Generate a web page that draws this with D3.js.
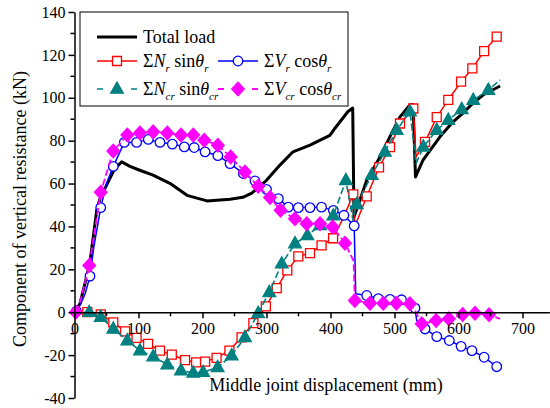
<!DOCTYPE html>
<html>
<head>
<meta charset="utf-8">
<script src="https://cdn.jsdelivr.net/npm/d3@7"></script>
<style>
  body { margin: 0; background: #fff; }
  svg { display: block; }
  svg text { font-family: "Liberation Serif", "Times New Roman", Times, "DejaVu Serif", serif; }
</style>
</head>
<body>
<svg id="chart" width="550" height="408"></svg>
<script>
// data: [displacement mm, kN, marker? (0 = no symbol)]
var totalLoad = [[0,0],[8.6,4.1],[16.4,13.4],[24,23],[34.7,47.5],[39.8,53],[55.5,62.5],[63,67],[73.8,70.1],[86.7,68],[102,66.2],[122.7,63.9],[149,60.1],[175.8,54.5],[207,51.9],[243,52.7],[263,53.6],[277,55.5],[300,61.5],[321,68.6],[341.4,74.8],[368,77.9],[399,82.5],[407,85.8],[427,93.5],[434.7,95.2],[436.7,44.4],[456.6,61.5],[477.3,72.4],[495.6,83.5],[508.6,91.1],[524,96.6],[529,96.9],[532.8,63.1],[544.5,70.9],[571,81.8],[591.4,88.8],[607,92.9],[622.7,97.5],[638.3,101.3],[665,105.5]];

var nrSin = [[0,0,0],[20,0],[41,-1],[60.6,-4.7],[79,-8.9],[97,-12],[115,-14.8],[133.6,-17.9],[152,-19.8],[172.7,-22.3],[190,-23.4],[204,-23],[222,-21.3],[242,-17.9],[261,-11.7],[279.5,-5.1],[299,2.7],[316,11.2],[332.5,19.5],[349.7,26],[368,27.6],[386,31.2],[404,34.5],[420,44,0],[435.6,55],[438,40,0],[456.6,54],[475.8,67.5],[493,77],[508.6,88],[529.4,95],[533.6,72.4,0],[547.7,79.4],[566,91],[584,99],[604,107.5],[621.6,113.7],[640,121.8],[659.7,128.5],[665,130,0]];

var vrCos = [[0,0,0],[3,0.5],[10,4,0],[17,9,0],[24.2,16.8],[30,30,0],[41,48.8],[50,60,0],[60.6,68],[77.8,79.2],[97,79.2],[115.3,80.6],[133.6,79.2],[152.9,78.4],[171.6,77.1],[187,76.8],[204,74.8],[224,73],[243,69.3],[263.8,64.7],[282,61.2],[300,57.3],[318.5,53],[334,49],[349.7,48.8],[368,48.8],[386,49],[404.4,47.5],[421,45.2],[437,40.3],[439.4,8.6,0],[456.6,7.8],[474.7,6.3],[493,6],[511,5.8],[532,1.9],[534.7,-3.9,0],[547.7,-7.8],[566,-11.4],[585.6,-13.2],[604,-15.9],[621,-17.9],[640,-21],[659.7,-25.4]];

var ncrSin = [[0,0,0],[23,0],[41,-2.3],[60.6,-7.8],[82.5,-13.2],[102.3,-17.9],[123,-20.7],[145,-24.4],[166.4,-27.2],[185.6,-28.3],[201,-28],[223.7,-25.7],[245.6,-20.2],[266.4,-11.7],[287,-0.5],[304.4,9.3],[323.8,22.6],[344.5,32],[363.8,35.8],[383.6,40.5],[404.4,45],[424,61.5],[435,43,0],[441,50.3],[464.4,63.9],[485,74.8],[503.4,84.9],[524.2,93.5],[533.6,69.3,0],[545,77.1],[566,84.9],[584,89.6],[605,94.6],[623,98.9],[646.6,103.6],[665,108.3,0]];

var vcrCos = [[2,0],[10,6,0],[23,21.8],[41,56],[60.6,75.2],[82.5,82.6],[102.3,83.6],[123,84.1],[145,83.6],[166.4,82.6],[185.6,82.6],[202.8,80.2],[224,77.9],[244,72.4],[266.4,65.4],[287,58.7],[305.5,53.5],[322,47.5],[344.5,43.6],[362.8,41.3],[383.6,41.3],[403.4,39.7],[422.7,32.2],[436,24,0],[438,5.5],[461.7,4.2],[482.5,4.2],[503,4.2],[524,3.9],[532,0.8,0],[542.5,-5.4],[565,-3.9],[585,-3.1],[606.5,-1.1],[625.8,-0.5],[647.7,-1.2],[665,-3.1,0]];

var xTicks = [0,100,200,300,400,500,600,700];
var yTicks = [-40,-20,0,20,40,60,80,100,120,140];

var FONT = "Liberation Serif, Times New Roman, Times, DejaVu Serif, serif";

var svg = d3.select("#chart");

var x = d3.scaleLinear().domain([0, 742]).range([74.5, 549.4]);
var y = d3.scaleLinear().domain([-40, 140]).range([398, 12]);

// symbol paths
function sym(type) {
  if (type === "square") return "M-4.5,-4.5H4.5V4.5H-4.5Z";
  if (type === "circle") return d3.symbol(d3.symbolCircle, 72)();
  if (type === "triangle") return "M0,-7L6.3,4.2L-6.3,4.2Z";
  if (type === "diamond") return "M0,-6.8L6.3,0L0,6.8L-6.3,0Z";
}

var series = [
  {data: totalLoad, color: "#000000", width: 3,   dash: null,  sym: null},
  {data: nrSin,     color: "#ff0000", width: 1.5, dash: null,  sym: "square",   fill: "#fff"},
  {data: vrCos,     color: "#0000ff", width: 1.5, dash: null,  sym: "circle",   fill: "#fff"},
  {data: ncrSin,    color: "#008080", width: 1.6, dash: "7,3", sym: "triangle", fill: "#008080"},
  {data: vcrCos,    color: "#ff00ff", width: 1.8, dash: "7,3", sym: "diamond",  fill: "#ff00ff"}
];

var line = d3.line().x(d => x(d[0])).y(d => y(d[1]));

series.forEach(function(s) {
  var g = svg.append("g");
  g.append("path")
    .attr("d", line(s.data))
    .attr("fill", "none")
    .attr("stroke", s.color)
    .attr("stroke-width", s.width)
    .attr("stroke-linejoin", "round")
    .attr("stroke-dasharray", s.dash);
  if (s.sym) {
    g.selectAll("path.pt")
      .data(s.data.filter(d => d[2] !== 0))
      .join("path")
      .attr("class", "pt")
      .attr("d", sym(s.sym))
      .attr("transform", d => `translate(${x(d[0])},${y(d[1])})`)
      .attr("fill", s.fill)
      .attr("stroke", s.color)
      .attr("stroke-width", 1.3);
  }
});

// axes (plain hyphen for negatives, like the original)
var fmt = d => String(d);

var yAxis = svg.append("g")
  .attr("transform", `translate(${x(0)},0)`)
  .call(d3.axisLeft(y).tickValues(yTicks).tickFormat(fmt).tickSize(6).tickSizeOuter(0).tickPadding(3));
yAxis.selectAll(".minor")
  .data(d3.range(-30, 140, 20))
  .join("line")
  .attr("x1", -4).attr("x2", 0)
  .attr("y1", d => y(d)).attr("y2", d => y(d))
  .attr("stroke", "#000").attr("stroke-width", 1.5);

var xAxis = svg.append("g")
  .attr("transform", `translate(0,${y(0)})`)
  .call(d3.axisBottom(x).tickValues(xTicks).tickFormat(fmt).tickSize(6).tickSizeOuter(0).tickPadding(4));
xAxis.selectAll(".minor")
  .data(d3.range(50, 750, 100))
  .join("line")
  .attr("x1", d => x(d)).attr("x2", d => x(d))
  .attr("y1", 0).attr("y2", 4)
  .attr("stroke", "#000").attr("stroke-width", 1.5);

[xAxis, yAxis].forEach(function(a) {
  a.attr("font-family", FONT).attr("font-size", 16);
  a.selectAll(".domain").attr("stroke-width", 1.5);
  a.selectAll(".tick line").attr("stroke-width", 1.5);
  a.selectAll("text").attr("fill", "#000");
});

// axis titles
svg.append("text")
  .attr("x", 326).attr("y", 391)
  .attr("text-anchor", "middle")
  .attr("font-family", FONT).attr("font-size", 18)
  .text("Middle joint displacement (mm)");

svg.append("text")
  .attr("transform", "translate(26,209) rotate(-90)")
  .attr("text-anchor", "middle")
  .attr("font-family", FONT).attr("font-size", 18)
  .text("Component of vertical resistance (kN)");

// legend
var leg = svg.append("g");
leg.append("rect")
  .attr("x", 80).attr("y", 12).attr("width", 268).attr("height", 94)
  .attr("fill", "#fff").attr("stroke", "#000").attr("stroke-width", 1);

var legItems = [
  {s: series[0], lx: 97, ly: 37, label: [["Total load", "n"]]},
  {s: series[1], lx: 97, ly: 61, label: [["Σ","n"],["N","i"],["r","s"],[" sin","n"],["θ","i"],["r","s"]]},
  {s: series[2], lx: 218, ly: 61, label: [["Σ","n"],["V","i"],["r","s"],[" cos","n"],["θ","i"],["r","s"]]},
  {s: series[3], lx: 97, ly: 89, label: [["Σ","n"],["N","i"],["cr","s"],[" sin","n"],["θ","i"],["cr","s"]]},
  {s: series[4], lx: 218, ly: 89, label: [["Σ","n"],["V","i"],["cr","s"],[" cos","n"],["θ","i"],["cr","s"]]}
];

legItems.forEach(function(it) {
  var s = it.s;
  leg.append("line")
    .attr("x1", it.lx).attr("x2", it.lx + 40)
    .attr("y1", it.ly).attr("y2", it.ly)
    .attr("stroke", s.color)
    .attr("stroke-width", s.width)
    .attr("stroke-dasharray", s.dash ? "6,28" : null);
  if (s.sym) {
    leg.append("path")
      .attr("d", sym(s.sym))
      .attr("transform", `translate(${it.lx + 20},${it.ly})`)
      .attr("fill", s.fill).attr("stroke", s.color).attr("stroke-width", 1.3);
  }
  var t = leg.append("text")
    .attr("x", it.lx + 46).attr("y", it.ly + 6)
    .attr("font-family", FONT).attr("font-size", 18);
  var shifted = false;
  it.label.forEach(function(p) {
    var ts = t.append("tspan").text(p[0]);
    if (p[1] === "i") ts.attr("font-style", "italic");
    if (p[1] === "s") {
      ts.attr("font-style", "italic").attr("font-size", 11).attr("dy", 5);
      shifted = true;
    } else if (shifted) {
      ts.attr("dy", -5);
      shifted = false;
    }
  });
});
</script>
</body>
</html>
